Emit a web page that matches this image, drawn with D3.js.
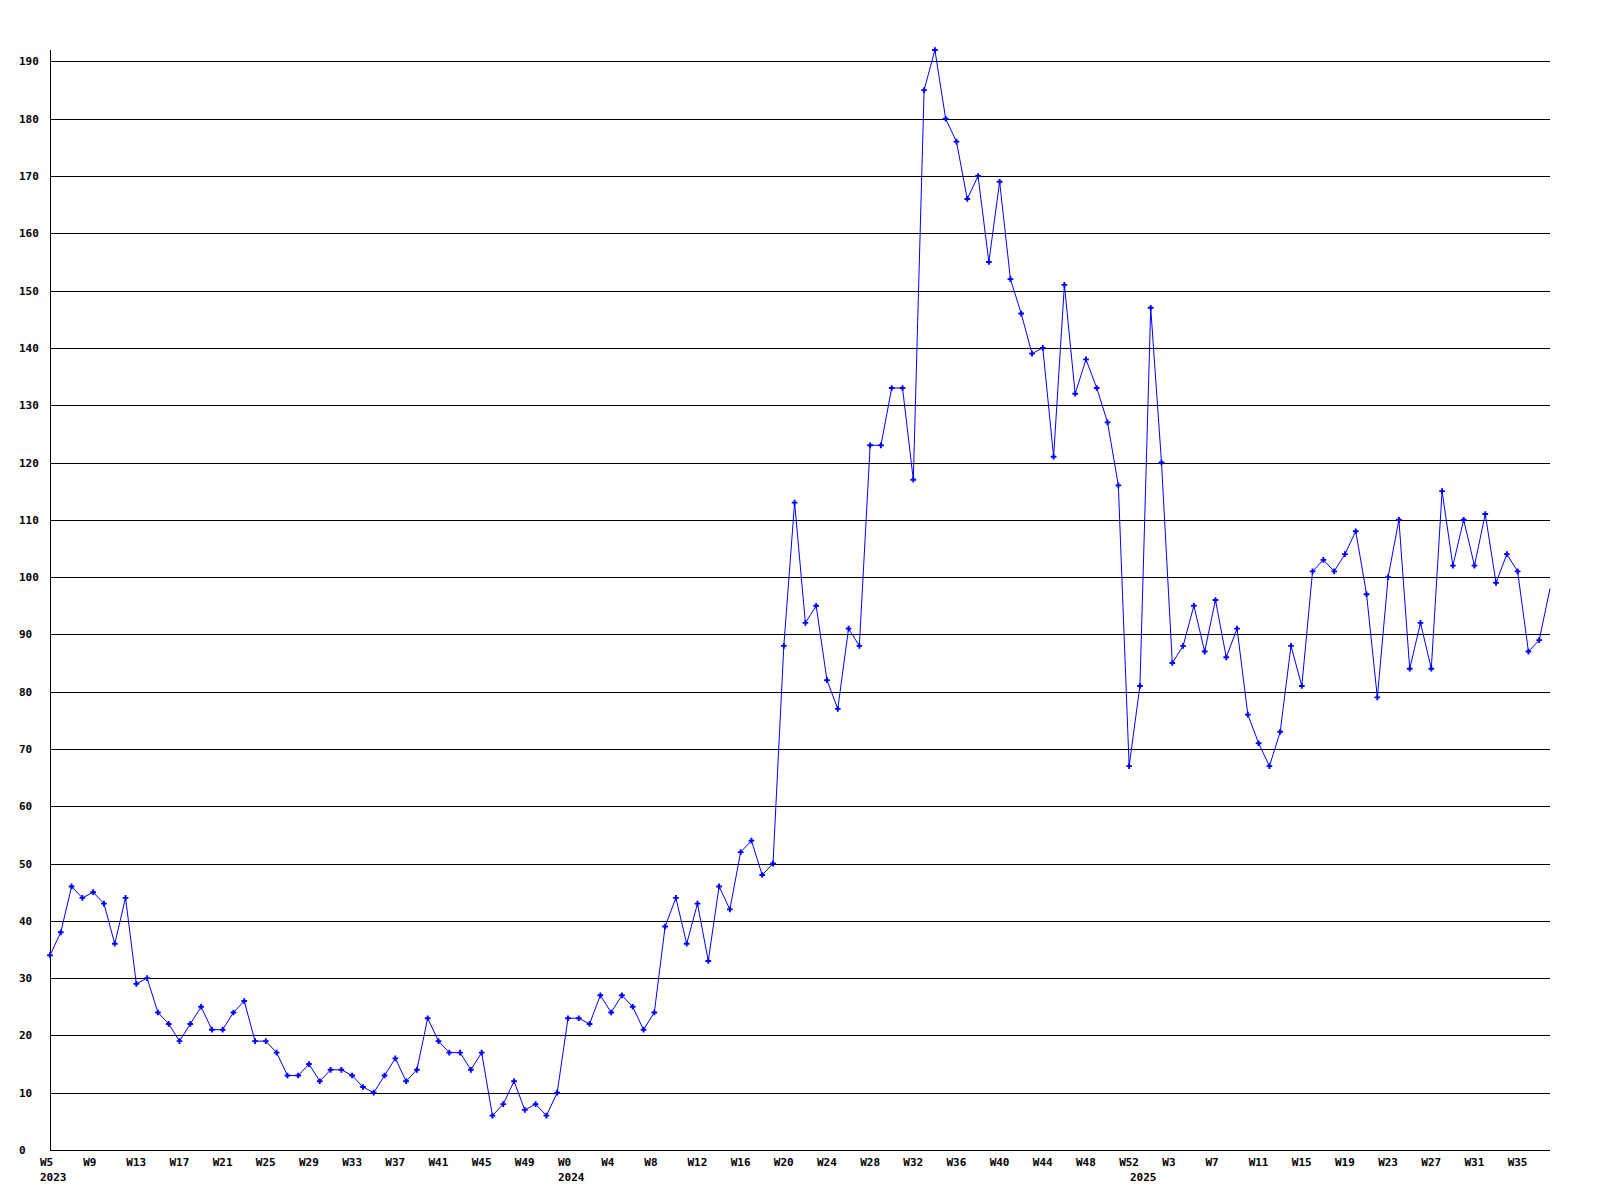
<!DOCTYPE html>
<html>
<head>
<meta charset="utf-8">
<script src="https://cdn.jsdelivr.net/npm/d3@7"></script>
<style>
  html, body { margin: 0; padding: 0; background: #ffffff; }
  svg { display: block; }
  text { font-family: "DejaVu Sans Mono", "Liberation Mono", monospace; font-weight: bold; font-size: 11px; fill: #000; }
</style>
</head>
<body>
<svg id="chart" width="1600" height="1200"></svg>
<script>
// ---- data ----
// weekly series: 2023 W5..W52, 2024 W0..W52, 2025 W0..W38
const years = [2023, 2024, 2025];
const firstWeek = [5, 0, 0];

const values2023 = [34,38,46,44,45,43,36,44,29,30,24,22,19,22,25,21,21,24,26,19,19,17,13,13,15,12,14,14,13,11,10,13,16,12,14,23,19,17,17,14,17,6,8,12,7,8,6,10];
const values2024 = [23,23,22,27,24,27,25,21,24,39,44,36,43,33,46,42,52,54,48,50,88,113,92,95,82,77,91,88,123,123,133,133,117,185,192,180,176,166,170,155,169,152,146,139,140,121,151,132,138,133,127,116,67];
const values2025 = [81,147,120,85,88,95,87,96,86,91,76,71,67,73,88,81,101,103,101,104,108,97,79,100,110,84,92,84,115,102,110,102,111,99,104,101,87,89,98];

const yTickValues = [0,10,20,30,40,50,60,70,80,90,100,110,120,130,140,150,160,170,180,190];
const xTickEvery = 4;

// ---- build categories ----
const seriesByYear = [values2023, values2024, values2025];
const points = [];
years.forEach((yr, k) => {
  seriesByYear[k].forEach((v, j) => {
    points.push({ year: yr, week: firstWeek[k] + j, value: v, firstOfYear: j === 0 });
  });
});

// ---- layout ----
const svg = d3.select("#chart");
const plotLeft = 50, plotRight = 1550, plotTop = 50, plotBottom = 1150;

const x = d3.scaleLinear().domain([0, points.length - 1]).range([plotLeft, plotRight]);
const y = d3.scaleLinear().domain([0, d3.max(points, d => d.value)]).range([plotBottom, plotTop]);

// gridlines
svg.append("g").selectAll("line")
  .data(yTickValues.filter(v => v > 0))
  .join("line")
  .attr("x1", plotLeft).attr("x2", plotRight)
  .attr("y1", d => Math.round(y(d)) + 0.5).attr("y2", d => Math.round(y(d)) + 0.5)
  .attr("stroke", "#000").attr("stroke-width", 1)
  .attr("shape-rendering", "crispEdges");

// axes lines
svg.append("line").attr("x1", plotLeft + 0.5).attr("x2", plotLeft + 0.5).attr("y1", plotTop).attr("y2", plotBottom)
  .attr("stroke", "#000").attr("shape-rendering", "crispEdges");
svg.append("line").attr("x1", plotLeft).attr("x2", plotRight).attr("y1", plotBottom + 0.5).attr("y2", plotBottom + 0.5)
  .attr("stroke", "#000").attr("shape-rendering", "crispEdges");

// y labels (left aligned)
svg.append("g").selectAll("text")
  .data(yTickValues)
  .join("text")
  .attr("x", 19)
  .attr("y", d => Math.round(y(d)) + 4)
  .text(d => d);

// x labels every 4th point
const xg = svg.append("g");
points.forEach((p, i) => {
  if (i % xTickEvery === 0) {
    xg.append("text").attr("x", x(i) - 10).attr("y", 1166).text("W" + p.week);
  }
  if (p.firstOfYear) {
    xg.append("text").attr("x", x(i) - 10).attr("y", 1181).text(p.year);
  }
});

// series line
const line = d3.line().x((d, i) => x(i)).y(d => y(d.value));
svg.append("path")
  .datum(points)
  .attr("d", line)
  .attr("fill", "none")
  .attr("stroke", "#0000ff")
  .attr("stroke-width", 1);

// markers (last point has none)
svg.append("g").selectAll("path")
  .data(points.slice(0, points.length - 1))
  .join("path")
  .attr("transform", (d, i) => `translate(${x(i)},${y(d.value)})`)
  .attr("d", d3.symbol().type(d3.symbolCross).size(18)())
  .attr("fill", "#0000ff");
</script>
</body>
</html>
